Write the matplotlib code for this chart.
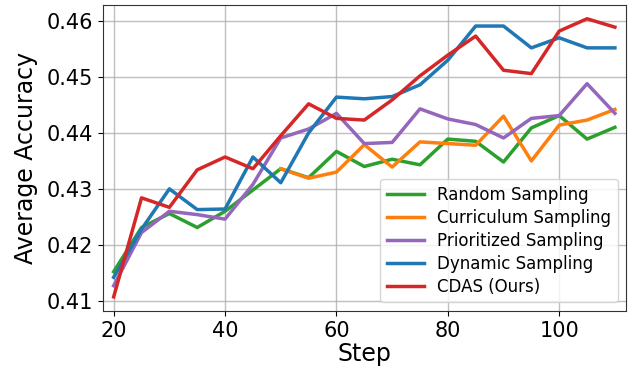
import matplotlib.pyplot as plt

steps = [20, 25, 30, 35, 40, 45, 50, 55, 60, 65, 70, 75, 80, 85, 90, 95, 100, 105, 110]

random_acc = [0.4152, 0.4231, 0.4256, 0.4231, 0.4260, 0.4298, 0.4336, 0.4320, 0.4367, 0.4340,
              0.4353, 0.4343, 0.4389, 0.4385, 0.4348, 0.4409, 0.4431, 0.4389, 0.4410]
# curriculum run logged from step 50 onwards
curriculum_steps = steps[6:]
curriculum_acc = [0.4336, 0.4319, 0.4330, 0.4379, 0.4339, 0.4384, 0.4381, 0.4378, 0.4430,
                  0.4350, 0.4414, 0.4423, 0.4442]
prioritized_acc = [0.4127, 0.4222, 0.4260, 0.4254, 0.4246, 0.4308, 0.4391, 0.4407, 0.4435, 0.4381,
                   0.4383, 0.4443, 0.4425, 0.4415, 0.4391, 0.4426, 0.4431, 0.4488, 0.4435]
dynamic_acc = [0.4142, 0.4228, 0.4300, 0.4263, 0.4264, 0.4357, 0.4311, 0.4400, 0.4464, 0.4461,
               0.4465, 0.4486, 0.4530, 0.4591, 0.4591, 0.4552, 0.4570, 0.4552, 0.4552]
cdas_acc = [0.4107, 0.4284, 0.4267, 0.4334, 0.4357, 0.4336, 0.4395, 0.4452, 0.4426, 0.4423,
            0.4459, 0.4502, 0.4539, 0.4573, 0.4512, 0.4506, 0.4582, 0.4604, 0.4589]

fig = plt.figure(figsize=(6.33, 3.74), dpi=100)
ax = fig.add_axes([0.162, 0.169, 0.827, 0.818])

lw = 2.5
ax.plot(steps, random_acc, color='tab:green', lw=lw, label='Random Sampling')
ax.plot(curriculum_steps, curriculum_acc, color='tab:orange', lw=lw, label='Curriculum Sampling')
ax.plot(steps, prioritized_acc, color='tab:purple', lw=lw, label='Prioritized Sampling')
ax.plot(steps, dynamic_acc, color='tab:blue', lw=lw, label='Dynamic Sampling')
ax.plot(steps, cdas_acc, color='tab:red', lw=lw, label='CDAS (Ours)')

ax.set_xlim(18, 112)
ax.set_xticks([20, 40, 60, 80, 100])
ax.set_yticks([0.41, 0.42, 0.43, 0.44, 0.45, 0.46])
ax.tick_params(labelsize=15)
ax.set_xlabel('Step', fontsize=17, labelpad=1)
ax.set_ylabel('Average Accuracy', fontsize=17, labelpad=6)
ax.grid(True, color='#b0b0b0', lw=1, alpha=0.8)
for s in ax.spines.values():
    s.set_color('#333333')

ax.legend(loc='lower right', fontsize=12, handlelength=2.2, borderaxespad=0.5, labelspacing=0.3)

fig.savefig('out.png')
